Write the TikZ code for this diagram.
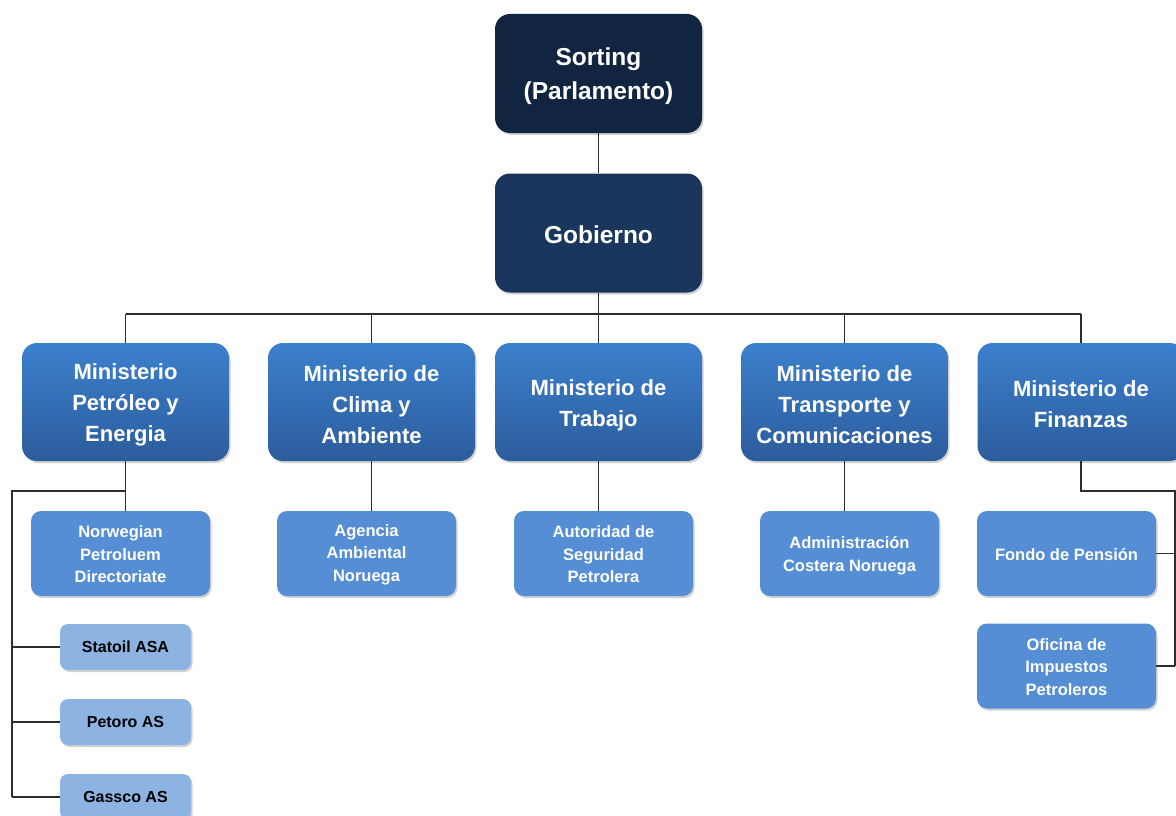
\documentclass[tikz,border=0pt]{standalone}
\usepackage{fontspec}
\setmainfont{Liberation Sans}
\usetikzlibrary{shadows}
\definecolor{navyA}{RGB}{18,37,64}
\definecolor{navyB}{RGB}{26,54,93}
\definecolor{minTop}{RGB}{60,128,206}
\definecolor{minBot}{RGB}{44,92,156}
\definecolor{subC}{RGB}{85,142,213}
\definecolor{smallC}{RGB}{141,179,226}
\definecolor{lineC}{RGB}{45,45,45}
\tikzset{
  shad/.style={drop shadow={shadow xshift=1.5pt,shadow yshift=-2pt,opacity=0.35}},
  topbox/.style={shad,rounded corners=15pt,minimum width=207pt,minimum height=119pt,inner sep=0pt},
  toptext/.style={text=white,align=center,font=\fontsize{24.5}{34}\selectfont\bfseries,inner sep=0pt},
  minbox/.style={shad,rounded corners=15pt,minimum width=207pt,minimum height=118pt,
    top color=minTop,bottom color=minBot,inner sep=0pt},
  mintext/.style={text=white,align=center,font=\fontsize{22}{31}\selectfont\bfseries,inner sep=0pt},
  subbox/.style={shad,rounded corners=10pt,minimum width=179pt,minimum height=85pt,
    fill=subC,inner sep=0pt},
  subtext/.style={text=white,align=center,font=\fontsize{16.5}{22.5}\selectfont\bfseries,inner sep=0pt},
  smallbox/.style={shad,rounded corners=8pt,minimum width=131pt,minimum height=46pt,
    fill=smallC,text=black,align=center,font=\fontsize{16}{20}\selectfont\bfseries,inner sep=0pt},
  conn/.style={draw=lineC,line width=1.4pt}
}
\begin{document}
\begin{tikzpicture}[x=1pt,y=-1pt]
\useasboundingbox (0,0) rectangle (1176,816);
\fill[white] (0,0) rectangle (1176,816);
\clip (0,0) rectangle (1176,816);
\coordinate (hl) at (125.5,314);
\coordinate (hr) at (1081,314);
\coordinate (hc) at (598.5,314);
\coordinate (lb) at (12,491);
\coordinate (rb) at (1175,491);

\node[topbox,fill=navyA] (sorting) at (598.5,73.5) {};
\node[toptext] (sortingT) at ([yshift=-2.5pt]sorting.center) {Sorting\\(Parlamento)};
\node[topbox,fill=navyB] (gob) at (598.5,233) {};
\node[toptext] (gobT) at ([yshift=-1.5pt]gob.center) {Gobierno};

\node[minbox] (m1) at (125.5,402) {};
\node[minbox] (m2) at (371.5,402) {};
\node[minbox] (m3) at (598.5,402) {};
\node[minbox] (m4) at (844.5,402) {};
\node[minbox] (m5) at (1081,402) {};
\node[mintext] (m1T) at ([yshift=-3pt]m1.center) {Ministerio\\Petróleo y\\Energia};
\node[mintext] (m2T) at ([yshift=-3pt]m2.center) {Ministerio de\\Clima y\\Ambiente};
\node[mintext] (m3T) at ([yshift=-3pt]m3.center) {Ministerio de\\Trabajo};
\node[mintext] (m4T) at ([yshift=-3pt]m4.center) {Ministerio de\\Transporte y\\Comunicaciones};
\node[mintext] (m5T) at ([yshift=-2.5pt]m5.center) {Ministerio de\\Finanzas};

\node[subbox] (npd) at (120.5,553.5) {};
\node[subbox] (aan) at (366.5,553.5) {};
\node[subbox] (asp) at (603.5,553.5) {};
\node[subbox] (acn) at (849.5,553.5) {};
\node[subbox] (fdp) at (1066.5,553.5) {};
\node[subbox] (oip) at (1066.5,666) {};
\node[subtext] (npdT) at ([yshift=-1pt]npd.center) {Norwegian\\Petroluem\\Directoriate};
\node[subtext] (aanT) at ([yshift=-1pt]aan.center) {Agencia\\Ambiental\\Noruega};
\node[subtext] (aspT) at ([yshift=-1pt]asp.center) {Autoridad de\\Seguridad\\Petrolera};
\node[subtext] (acnT) at ([yshift=-2pt]acn.center) {Administración\\Costera Noruega};
\node[subtext] (fdpT) at ([yshift=-1pt]fdp.center) {Fondo de Pensión};
\node[subtext] (oipT) at ([yshift=-1pt]oip.center) {Oficina de\\Impuestos\\Petroleros};

\node[smallbox] (sta) at (125.5,647) {Statoil ASA};
\node[smallbox] (pet) at (125.5,722) {Petoro AS};
\node[smallbox] (gas) at (125.5,797) {Gassco AS};

\draw[conn] (sorting.south) -- (gob.north);
\draw[conn] (gob.south) -- (hc);
\draw[conn] (hl) -- (hr);
\draw[conn] (hl) -- (m1.north);
\draw[conn] (m2.north |- hc) -- (m2.north);
\draw[conn] (hc) -- (m3.north);
\draw[conn] (m4.north |- hc) -- (m4.north);
\draw[conn] (hr) -- (m5.north);

\draw[conn] (m1.south) -- (m1.south |- npd.north);
\draw[conn] (m1.south |- lb) -- (lb) -- (lb |- gas.west);
\draw[conn] (lb |- sta.west) -- (sta.west);
\draw[conn] (lb |- pet.west) -- (pet.west);
\draw[conn] (lb |- gas.west) -- (gas.west);

\draw[conn] (m2.south) -- (m2.south |- aan.north);
\draw[conn] (m3.south) -- (m3.south |- asp.north);
\draw[conn] (m4.south) -- (m4.south |- acn.north);

\draw[conn] (m5.south) |- (rb) -- (rb |- oip.east);
\draw[conn] (fdp.east) -- (rb |- fdp.east);
\draw[conn] (oip.east) -- (rb |- oip.east);
\end{tikzpicture}
\end{document}
